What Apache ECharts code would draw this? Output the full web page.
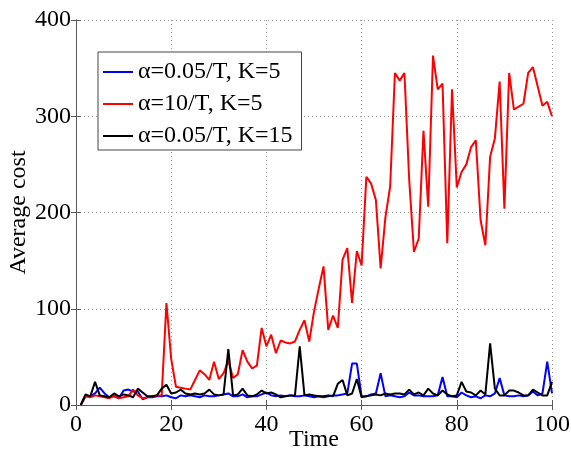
<!DOCTYPE html>
<html>
<head>
<meta charset="utf-8">
<script src="https://cdn.jsdelivr.net/npm/echarts@6/dist/echarts.min.js"></script>
<style>
  html, body { margin: 0; padding: 0; background: #fff; }
  #chart { width: 571px; height: 457px; }
</style>
</head>
<body>
<div id="chart"></div>
<script>
// Average cost per time step (t = 1 .. 100) for three parameter settings
const seriesNames = ['α=0.05/T, K=5', 'α=10/T, K=5', 'α=0.05/T, K=15'];

const costSmallStepK5 = [
  0, 9, 9, 12, 18, 12, 8, 9, 7, 15,
  16, 14, 14, 6, 8, 8, 9, 9, 10, 8,
  7, 10, 9, 10, 9, 8, 10, 9, 9, 10,
  11, 12, 9, 9, 11, 8, 9, 9, 11, 13,
  10, 9, 10, 9, 10, 9, 9, 10, 9, 8,
  9, 8, 9, 10, 10, 11, 12, 43, 43, 9,
  9, 11, 12, 33, 9, 10, 9, 8, 9, 13,
  10, 10, 9, 9, 9, 10, 29, 9, 9, 8,
  13, 10, 8, 9, 7, 10, 9, 12, 28, 10,
  9, 9, 10, 9, 10, 14, 10, 12, 45, 12
];

const costLargeStepK5 = [
  0, 9, 8, 10, 9, 8, 7, 10, 7, 8,
  9, 16, 10, 7, 8, 9, 10, 10, 106, 48,
  19, 18, 17, 16, 26, 36, 32, 26, 45, 27,
  33, 46, 28, 32, 57, 45, 38, 41, 80, 61,
  73, 54, 67, 65, 64, 66, 78, 88, 66, 97,
  121, 144, 78, 93, 80, 151, 163, 106, 160, 145,
  237, 230, 213, 142, 195, 227, 345, 337, 345, 234,
  159, 173, 285, 206, 363, 328, 334, 168, 328, 226,
  242, 250, 268, 275, 192, 166, 258, 277, 336, 204,
  345, 307, 310, 313, 345, 351, 331, 311, 315, 300
];

const costSmallStepK15 = [
  0, 11, 9, 24, 10, 9, 8, 12, 9, 11,
  10, 8, 17, 13, 9, 9, 10, 17, 21, 12,
  13, 16, 12, 11, 12, 11, 12, 16, 11, 10,
  11, 58, 10, 11, 17, 10, 9, 11, 15, 12,
  13, 11, 8, 9, 10, 10, 61, 10, 11, 10,
  9, 9, 10, 9, 22, 26, 10, 12, 27, 8,
  9, 10, 11, 10, 12, 11, 12, 12, 11, 16,
  11, 13, 10, 17, 12, 10, 15, 11, 9, 10,
  24, 14, 13, 10, 15, 11, 64, 17, 10, 10,
  15, 15, 13, 10, 10, 16, 13, 10, 10, 24
];

const lineColors = ['#0000ff', '#ff0000', '#000000'];
const serifFont = '"Liberation Serif", "Times New Roman", serif';
const fs = 24;

function toPoints(values) {
  return values.map((v, i) => [i + 1, v]);
}

const chart = echarts.init(document.getElementById('chart'), null, { renderer: 'canvas' });

const frameColor = '#5a5a5a';
const tickStyle = { show: true, inside: true, length: 5, lineStyle: { color: frameColor, width: 1 } };
const gridDots = { show: true, lineStyle: { type: [1, 3], color: '#9a9a9a', width: 1 } };

chart.setOption({
  animation: false,
  backgroundColor: '#fff',
  grid: { left: 76, right: 19, top: 20, bottom: 52, containLabel: false, outerBoundsMode: 'none' },
  legend: {
    orient: 'vertical',
    left: 98,
    top: 52,
    itemWidth: 30,
    itemHeight: 2,
    itemGap: 8,
    padding: [8, 9, 2, 5],
    borderColor: '#444',
    borderWidth: 1,
    backgroundColor: '#fff',
    icon: 'rect',
    textStyle: { fontFamily: serifFont, fontSize: fs, color: '#000', lineHeight: 24 },
    data: seriesNames
  },
  xAxis: [
    {
      type: 'value', min: 0, max: 100, interval: 20,
      name: 'Time', nameLocation: 'middle', nameGap: 23, nameMoveOverlap: false,
      nameTextStyle: { fontFamily: serifFont, fontSize: fs, color: '#000' },
      axisLine: { show: true, lineStyle: { color: frameColor, width: 1 } },
      axisTick: tickStyle,
      axisLabel: { fontFamily: serifFont, fontSize: fs, color: '#000', margin: 8 },
      splitLine: gridDots
    },
    {
      type: 'value', min: 0, max: 100, interval: 20, position: 'top',
      axisLine: { show: true, lineStyle: { color: frameColor, width: 1 } },
      axisTick: tickStyle, axisLabel: { show: false }, splitLine: { show: false }
    }
  ],
  yAxis: [
    {
      type: 'value', min: 0, max: 400, interval: 100,
      name: 'Average cost', nameLocation: 'middle', nameGap: 45, nameRotate: 90, nameMoveOverlap: false,
      nameTextStyle: { fontFamily: serifFont, fontSize: fs, color: '#000' },
      axisLine: { show: true, lineStyle: { color: frameColor, width: 1 } },
      axisTick: tickStyle,
      axisLabel: { fontFamily: serifFont, fontSize: fs, color: '#000', margin: 5 },
      splitLine: gridDots
    },
    {
      type: 'value', min: 0, max: 400, interval: 100, position: 'right',
      axisLine: { show: true, lineStyle: { color: frameColor, width: 1 } },
      axisTick: tickStyle, axisLabel: { show: false }, splitLine: { show: false }
    }
  ],
  series: [
    { name: seriesNames[0], type: 'line', data: toPoints(costSmallStepK5) },
    { name: seriesNames[1], type: 'line', data: toPoints(costLargeStepK5) },
    { name: seriesNames[2], type: 'line', data: toPoints(costSmallStepK15) }
  ].map((s, i) => Object.assign(s, {
    symbol: 'none',
    lineStyle: { color: lineColors[i], width: 2 },
    itemStyle: { color: lineColors[i] },
    xAxisIndex: 0,
    yAxisIndex: 0
  }))
});
</script>
</body>
</html>
